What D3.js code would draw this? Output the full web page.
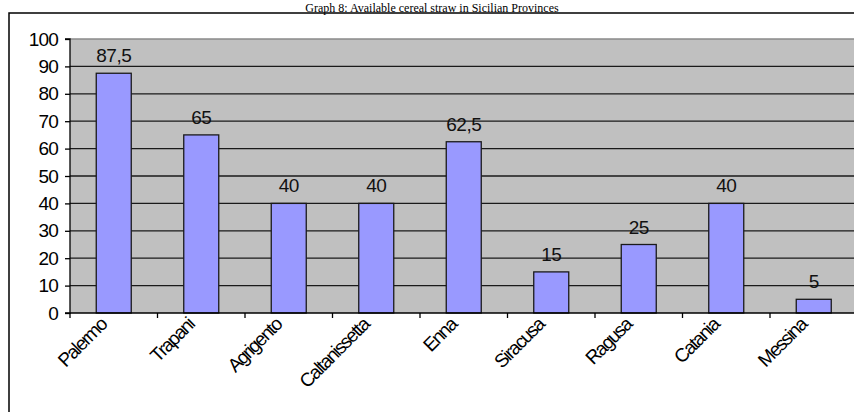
<!DOCTYPE html>
<html><head><meta charset="utf-8">
<script src="https://cdn.jsdelivr.net/npm/d3@7"></script>
<style>html,body{margin:0;padding:0;background:#fff;overflow:hidden}</style>
</head><body>
<svg id="c" width="854" height="412"></svg>
<script>
const title = "Graph 8: Available cereal straw in Sicilian Provinces";
const provinces = ["Palermo","Trapani","Agrigento","Caltanissetta","Enna","Siracusa","Ragusa","Catania","Messina"];
const values = [87.5, 65, 40, 40, 62.5, 15, 25, 40, 5];
const valueLabels = ["87,5","65","40","40","62,5","15","25","40","5"];
const yTicks = [0,10,20,30,40,50,60,70,80,90,100];

const svg = d3.select("#c");
const L = 70, R = 857.5, T = 39, B = 313;
const sans = "Liberation Sans, Arial, sans-serif";

svg.append("text").attr("x", 432).attr("y", 11.5).attr("text-anchor","middle")
  .attr("font-family","Liberation Serif, Times New Roman, serif").attr("font-size", 12).text(title);

// outer frame
svg.append("path").attr("d","M9,412V13H854").attr("fill","none").attr("stroke","#000").attr("stroke-width",1.5);

const x = d3.scaleBand().domain(provinces).range([L, R]).padding(0);
const y = d3.scaleLinear().domain([0,100]).range([B, T]);

svg.append("rect").attr("x",L).attr("y",T).attr("width",R-L).attr("height",B-T).attr("fill","#C0C0C0");

// gridlines
svg.append("g").selectAll("line").data(yTicks.filter(d=>d>0 && d<100)).join("line")
  .attr("x1",L).attr("x2",R).attr("y1",d=>y(d)).attr("y2",d=>y(d))
  .attr("stroke","#1a1a1a").attr("stroke-width",1.3);
svg.append("line").attr("x1",L).attr("x2",R).attr("y1",y(100)).attr("y2",y(100)).attr("stroke","#8a8a8a").attr("stroke-width",1.3);

// bars
const bw = x.bandwidth()*0.4;
svg.append("g").selectAll("rect").data(values).join("rect")
  .attr("x",(d,i)=>x(provinces[i]) + x.bandwidth()/2 - bw/2)
  .attr("y",d=>y(d)).attr("width",bw).attr("height",d=>B-y(d))
  .attr("fill","#9999FF").attr("stroke","#1a1a1a").attr("stroke-width",1.3);

// value labels
svg.append("g").selectAll("text").data(values).join("text")
  .attr("x",(d,i)=>x(provinces[i]) + x.bandwidth()/2)
  .attr("y",d=>y(d)-11)
  .attr("text-anchor","middle").attr("font-family",sans).attr("font-size",19)
  .attr("letter-spacing",-0.5).attr("fill","#111").text((d,i)=>valueLabels[i]);

// y axis
const ya = svg.append("g").attr("transform",`translate(${L},0)`)
  .call(d3.axisLeft(y).tickValues(yTicks).tickSize(5).tickPadding(7));
ya.selectAll("text").attr("font-family",sans).attr("font-size",19).attr("letter-spacing",-0.8).attr("fill","#000");
ya.selectAll("line,path").attr("stroke","#000").attr("stroke-width",1.3);
ya.select(".domain").attr("d",`M-5,${T}H0V${B}H-5`);

// x axis
const xa = svg.append("g").attr("transform",`translate(0,${B})`);
xa.append("line").attr("x1",L).attr("x2",R).attr("y1",0).attr("y2",0).attr("stroke","#000").attr("stroke-width",1.3);
xa.selectAll("line.t").data(provinces).join("line").attr("class","t")
  .attr("x1",d=>x(d)).attr("x2",d=>x(d)).attr("y1",0).attr("y2",5).attr("stroke","#000").attr("stroke-width",1.3);
xa.selectAll("text").data(provinces).join("text")
  .attr("transform",d=>`translate(${x(d)+x.bandwidth()/2-6},${13}) rotate(-45)`)
  .attr("text-anchor","end").attr("font-family",sans).attr("font-size",19)
  .attr("letter-spacing",-1.6).attr("fill","#000").text(d=>d);
</script>
</body></html>
